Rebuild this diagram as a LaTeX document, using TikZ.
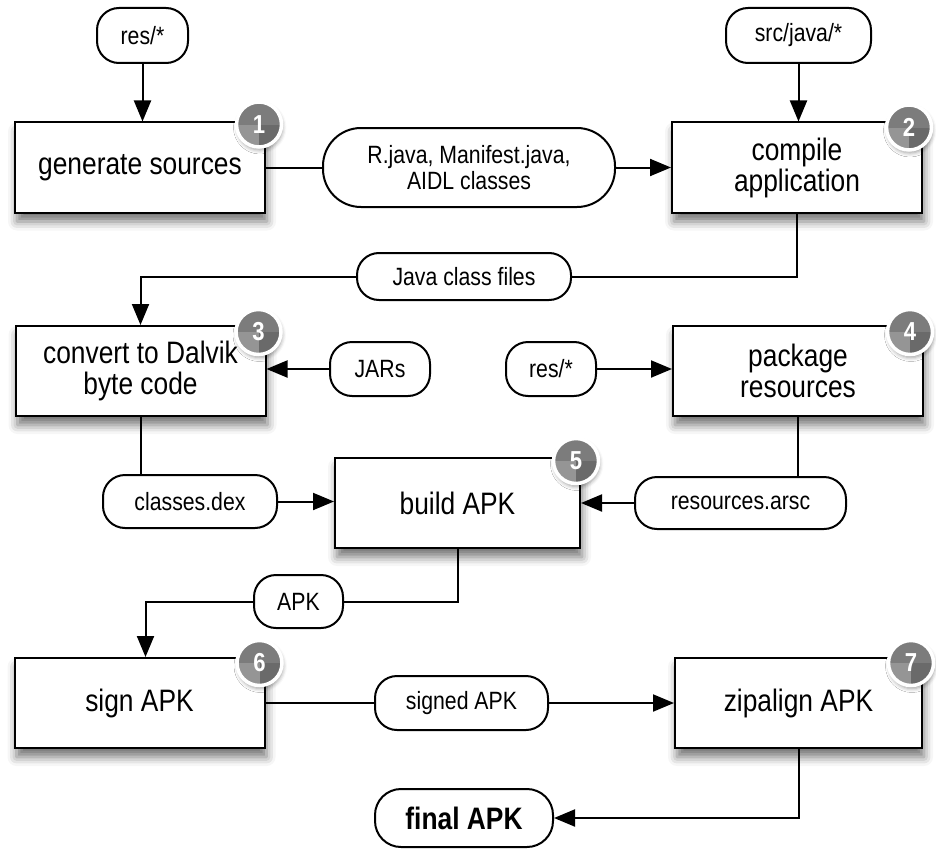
\documentclass[tikz,border=0pt]{standalone}
\usepackage{fontspec}
\setmainfont{Liberation Sans}[FakeStretch=0.85]
\usetikzlibrary{arrows.meta,shadows.blur,calc}
\definecolor{badgemid}{HTML}{7C7C7C}
\definecolor{badgelight}{HTML}{959595}
\definecolor{badgedark}{HTML}{6A6A6A}
\begin{document}
\begin{tikzpicture}[x=1pt,y=-1pt,
  stepbox/.style={draw,line width=2pt,fill=white,minimum width=250pt,minimum height=90pt,
    align=center,inner sep=0pt,font=\fontsize{31}{31}\selectfont,
    blur shadow={shadow xshift=2pt,shadow yshift=-9pt,shadow blur radius=9pt,shadow opacity=55}},
  pill/.style={draw,line width=2pt,fill=white,rounded corners=22pt,minimum height=54pt,
    align=center,inner sep=0pt,font=\fontsize{25}{26}\selectfont},
  conn/.style={line width=2pt},
  arr/.style={conn,-{Triangle[length=21pt,width=17pt]}},
  badge/.style={circle,fill=badgemid,draw=white,line width=3.5pt,minimum size=45pt,inner sep=0pt,
    text=white,font=\bfseries\fontsize{26}{26}\selectfont,
    blur shadow={shadow xshift=1pt,shadow yshift=-3pt,shadow blur radius=4pt,shadow opacity=40},
    path picture={
      \fill[badgelight] (path picture bounding box.center) rectangle (path picture bounding box.south west);
      \fill[badgedark] (path picture bounding box.center) rectangle (path picture bounding box.south east);}}
]
\useasboundingbox (0,0) rectangle (936,848);

% step boxes
\node[stepbox] (box1) at (140,167.5) {generate sources};
\node[stepbox] (box2) at (797,167.5) {compile\\application};
\node[stepbox] (box3) at (140.5,371) {convert to Dalvik\\byte code};
\node[stepbox] (box4) at (798,371) {package\\resources};
\node[stepbox,minimum width=245pt] (box5) at (457.5,503) {build APK};
\node[stepbox] (box6) at (139.5,703) {sign APK};
\node[stepbox,minimum width=247pt] (box7) at (798.5,703) {zipalign APK};

% pills
\node[pill,minimum width=91pt,minimum height=55pt] (res1) at (142.5,35.5) {res/*};
\node[pill,minimum width=145pt,minimum height=55pt] (src) at (798.5,35.5) {src/java/*};
\node[pill,minimum width=292pt,minimum height=79pt,rounded corners=38pt] (rjava) at (469,167.5) {R.java, Manifest.java,\\AIDL classes};
\node[pill,minimum width=214pt,minimum height=47pt] (jcf) at (464,276.5) {Java class files};
\node[pill,minimum width=100pt] (jars) at (380,369) {JARs};
\node[pill,minimum width=90pt] (res2) at (551,369) {res/*};
\node[pill,minimum width=174pt,minimum height=53pt] (cdex) at (190,501.5) {classes.dex};
\node[pill,minimum width=211pt,minimum height=52pt] (rarsc) at (740.5,503) {resources.arsc};
\node[pill,minimum width=89pt,minimum height=53pt] (apk) at (298.5,601.5) {APK};
\node[pill,minimum width=173pt] (signed) at (461.5,703) {signed APK};
\node[pill,minimum width=178pt,minimum height=58pt,rounded corners=26pt,font=\bfseries\fontsize{31}{31}\selectfont] (final) at (464,818) {final APK};

% connectors
\draw[arr] (res1.south) -- (res1.south |- box1.north);
\draw[conn] (box1.east) -- (rjava.west);
\draw[arr] (rjava.east) -- (box2.west);
\draw[arr] (src.south) -- (src.south |- box2.north);
\draw[conn] (box2.south) |- (jcf.east);
\draw[arr] (jcf.west) -| (box3.north);
\draw[arr] (jars.west) -- (jars.west -| box3.east);
\draw[arr] (res2.east) -- (res2.east -| box4.west);
\draw[conn] (box3.south) -- (box3.south |- cdex.north);
\draw[arr] (cdex.east) -- (cdex.east -| box5.west);
\draw[conn] (box4.south) -- (box4.south |- rarsc.north);
\draw[arr] (rarsc.west) -- (rarsc.west -| box5.east);
\draw[conn] (box5.south) |- (apk.east);
\coordinate (in6) at ($(box6.north)+(6,0)$);
\draw[arr] (apk.west) -| (in6);
\draw[conn] (box6.east) -- (signed.west);
\draw[arr] (signed.east) -- (signed.east -| box7.west);
\draw[arr] (box7.south) |- (final.east);

% badges
\node[badge] (b1) at ($(box1.north east)+(-7,3)$) {1};
\node[badge] (b2) at ($(box2.north east)+(-14,6)$) {2};
\node[badge] (b3) at ($(box3.north east)+(-8,7)$) {3};
\node[badge] (b4) at ($(box4.north east)+(-14,7)$) {4};
\node[badge] (b5) at ($(box5.north east)+(-5,4)$) {5};
\node[badge] (b6) at ($(box6.north east)+(-6,6)$) {6};
\node[badge] (b7) at ($(box7.north east)+(-12,6)$) {7};
\end{tikzpicture}
\end{document}
